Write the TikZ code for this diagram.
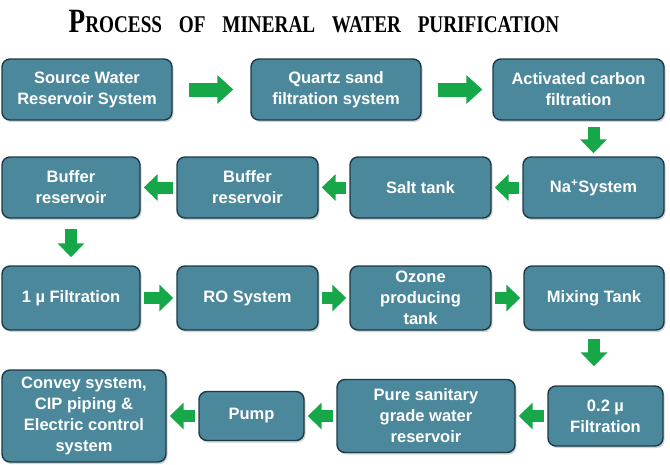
\documentclass[tikz,border=0pt]{standalone}
\usepackage{fontspec}
\setmainfont{Liberation Sans}
\newfontfamily\titlefont[FakeStretch=0.8]{Liberation Serif}
\usepackage{xcolor}
\usetikzlibrary{arrows.meta, shadows}

\definecolor{boxfill}{RGB}{76,136,155}
\definecolor{boxline}{RGB}{28,58,72}
\definecolor{flowgreen}{RGB}{22,168,72}

\begin{document}
\begin{tikzpicture}[x=1pt, y=-1pt,
  box/.style={draw=boxline, line width=1.4pt, fill=boxfill, rounded corners=8pt, align=center, text=white, font=\fontsize{16.5}{21}\selectfont\bfseries, inner sep=2pt, drop shadow={shadow xshift=1.5pt, shadow yshift=-2pt, opacity=0.35}},
  flow/.style={-{Triangle[length=14pt, width=26pt]}, line width=12pt, draw=flowgreen, shorten <=3pt, shorten >=3pt},
  bigflow/.style={flow, -{Triangle[length=16pt, width=28pt]}, line width=14pt}
]
  \useasboundingbox (0,0) rectangle (670,464);

  % Title
  \node[anchor=base, font=\titlefont\bfseries] (title) at (314,32) {{\fontsize{34}{34}\selectfont P}{\fontsize{24}{24}\selectfont ROCESS\hspace{0.5em} OF\hspace{0.5em} MINERAL\hspace{0.5em} WATER\hspace{0.5em} PURIFICATION}};

  % Row 1 (left to right)
  \node[box, minimum width=170pt, minimum height=61pt] (src) at (87,89.5) {Source Water\\Reservoir System};
  \node[box, minimum width=170pt, minimum height=61pt] (qtz) at (336,89.5) {Quartz sand\\filtration system};
  \node[box, minimum width=171pt, minimum height=61pt] (act) at (578.5,89.5) {Activated carbon\\filtration};
  \draw[bigflow, shorten <=16pt, shorten >=17pt] (src) -- (qtz);
  \draw[bigflow, shorten <=16pt, shorten >=10pt] (qtz) -- (act);

  % Row 2 (right to left)
  \node[box, minimum width=141pt, minimum height=61pt] (na) at (593.5,187.5) {Na\textsuperscript{+}System};
  \node[box, minimum width=141pt, minimum height=61pt] (salt) at (420.5,187.5) {Salt tank};
  \node[box, minimum width=141pt, minimum height=61pt] (buf2) at (247.5,187.5) {Buffer\\reservoir};
  \node[box, minimum width=138pt, minimum height=61pt] (buf1) at (71,187.5) {Buffer\\reservoir};
  \draw[flow, shorten <=6pt, shorten >=3pt] (act.south -| na.north) -- (na.north);
  \draw[flow] (na) -- (salt);
  \draw[flow] (salt) -- (buf2);
  \draw[flow] (buf2) -- (buf1);

  % Row 3 (left to right)
  \node[box, minimum width=138pt, minimum height=64pt] (filt1) at (71,298) {1 µ Filtration};
  \node[box, minimum width=141pt, minimum height=64pt] (ro) at (247.5,298) {RO System};
  \node[box, minimum width=141pt, minimum height=64pt] (ozone) at (420.5,298) {Ozone\\producing\\tank};
  \node[box, minimum width=140pt, minimum height=64pt] (mix) at (594,298) {Mixing Tank};
  \draw[flow, shorten <=10pt, shorten >=8pt] (buf1) -- (filt1);
  \draw[flow] (filt1) -- (ro);
  \draw[flow] (ro) -- (ozone);
  \draw[flow] (ozone) -- (mix);

  % Row 4 (right to left)
  \node[box, minimum width=115pt, minimum height=60pt] (f02) at (605.5,416) {0.2 µ\\Filtration};
  \node[box, minimum width=178pt, minimum height=73pt] (pure) at (426,416) {Pure sanitary\\grade water\\reservoir};
  \node[box, minimum width=105pt, minimum height=49pt] (pump) at (251.5,416) {Pump};
  \node[box, minimum width=164pt, minimum height=92pt] (conv) at (84,416) {Convey system,\\CIP piping \&\\Electric control\\system};
  \draw[flow, shorten <=8pt, shorten >=19pt] (mix.south) -- (mix.south |- f02.north);
  \draw[flow] (f02) -- (pure);
  \draw[flow] (pure) -- (pump);
  \draw[flow] (pump) -- (conv);

\end{tikzpicture}
\end{document}
